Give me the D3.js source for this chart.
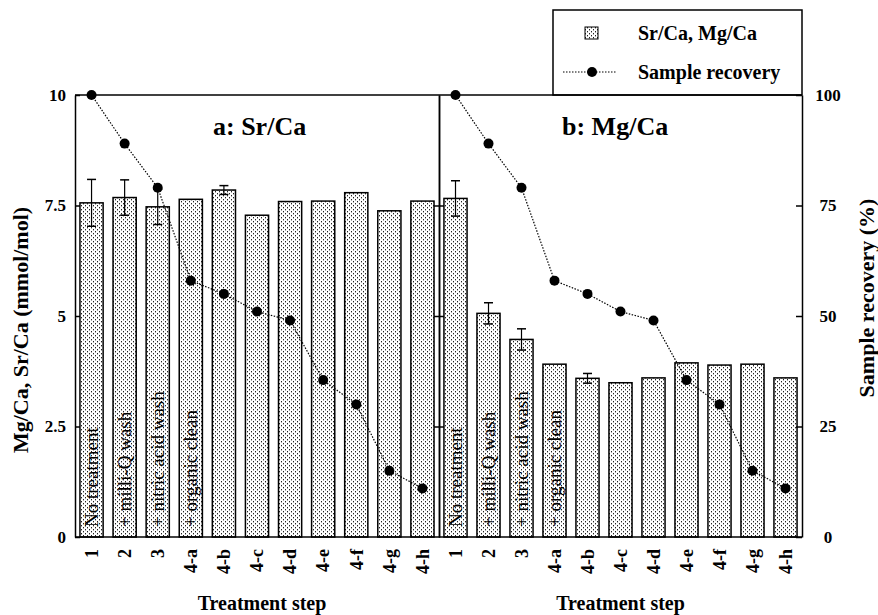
<!DOCTYPE html>
<html>
<head>
<meta charset="utf-8">
<script src="https://d3js.org/d3.v7.min.js"></script>
<style>
body { margin: 0; background: #fff; }
svg { font-family: "Liberation Serif", "Times New Roman", serif; }
.axis text { font-family: "Liberation Serif", "Times New Roman", serif; font-weight: bold; font-size: 17px; fill: #000; }
.axis path, .axis line { stroke: #000; stroke-width: 1.5; }
</style>
</head>
<body>
<div id="chart"></div>
<script>
// treatment steps and measured values
var steps = ["1", "2", "3", "4-a", "4-b", "4-c", "4-d", "4-e", "4-f", "4-g", "4-h"]
var srCa = [7.56, 7.68, 7.47, 7.64, 7.85, 7.28, 7.59, 7.60, 7.79, 7.38, 7.60]
var srCaErr = [0.53, 0.40, 0.40, 0, 0.10, 0, 0, 0, 0, 0, 0]
var mgCa = [7.66, 5.06, 4.47, 3.91, 3.59, 3.49, 3.60, 3.94, 3.89, 3.91, 3.60]
var mgCaErr = [0.40, 0.24, 0.24, 0, 0.11, 0, 0, 0, 0, 0, 0]
var recovery = [100, 89, 79, 58, 55, 51, 49, 35.5, 30, 15, 11]
var stepText = ["No treatment", "+ milli-Q wash", "+ nitric acid wash", "+ organic clean"]
var ratioTicks = [0, 2.5, 5, 7.5, 10]
var recTicks = [0, 25, 50, 75, 100]

var plotLeft = 75, plotMid = 439, plotRight = 802, plotTop = 95, plotBottom = 537

var svg = d3.select('#chart').append('svg')
    .attr('width', 878)
    .attr('height', 615)

// stipple fill for the bars
var defs = svg.append('defs')
var pat = defs.append('pattern')
    .attr('id', 'stip')
    .attr('patternUnits', 'userSpaceOnUse')
    .attr('width', 4)
    .attr('height', 4)
pat.append('rect').attr('width', 4).attr('height', 4).attr('fill', '#fff')
pat.append('rect').attr('x', 1).attr('y', 1).attr('width', 1).attr('height', 1).attr('fill', '#222')
pat.append('rect').attr('x', 3).attr('y', 3).attr('width', 1).attr('height', 1).attr('fill', '#222')
pat.append('rect').attr('x', 1).attr('y', 2).attr('width', 1).attr('height', 1).attr('fill', '#aaa')
pat.append('rect').attr('x', 3).attr('y', 0).attr('width', 1).attr('height', 1).attr('fill', '#aaa')

var y = d3.scaleLinear().domain([0, 10]).range([plotBottom, plotTop])
var yr = d3.scaleLinear().domain([0, 100]).range([plotBottom, plotTop])

var panels = [
    { name: 'a: Sr/Ca', vals: srCa, err: srCaErr, x0: plotLeft, x1: plotMid },
    { name: 'b: Mg/Ca', vals: mgCa, err: mgCaErr, x0: plotMid, x1: plotRight }
]

// legend box (drawn first so the frame line sits over its bottom edge)
var lg = svg.append('g')
lg.append('rect').attr('x', 553).attr('y', 10).attr('width', 249).attr('height', 85)
    .attr('fill', '#fff').attr('stroke', '#000').attr('stroke-width', 1.5)
lg.append('rect').attr('x', 585).attr('y', 27).attr('width', 13).attr('height', 12)
    .attr('fill', 'url(#stip)').attr('stroke', '#000').attr('stroke-width', 1)
lg.append('text').attr('x', 638).attr('y', 40).text('Sr/Ca, Mg/Ca')
    .style('font-weight', 'bold').style('font-size', '20px')
lg.append('line').attr('x1', 563).attr('x2', 617).attr('y1', 72).attr('y2', 72)
    .attr('stroke', '#000').attr('stroke-width', 1.2).attr('stroke-dasharray', '1.5,1.5')
lg.append('circle').attr('cx', 592).attr('cy', 72).attr('r', 5).attr('fill', '#000')
lg.append('text').attr('x', 638).attr('y', 79).text('Sample recovery')
    .style('font-weight', 'bold').style('font-size', '20px')

panels.forEach(function(p, pi) {
    var x = d3.scaleBand().domain(steps).range([p.x0, p.x1]).paddingInner(0.3).paddingOuter(0.15)
    var g = svg.append('g')

    // bars
    g.selectAll('rect.bar')
        .data(p.vals)
        .enter()
        .append('rect')
        .attr('class', 'bar')
        .attr('x', function(d, i) { return x(steps[i]) })
        .attr('width', x.bandwidth())
        .attr('y', function(d) { return y(d) })
        .attr('height', function(d) { return y(0) - y(d) })
        .attr('fill', 'url(#stip)')
        .attr('stroke', '#000')
        .attr('stroke-width', 1.5)

    // error bars
    p.vals.forEach(function(d, i) {
        var e = p.err[i]
        if (!e) return
        var cx = x(steps[i]) + x.bandwidth() / 2
        g.append('line').attr('x1', cx).attr('x2', cx).attr('y1', y(d - e)).attr('y2', y(d + e))
            .attr('stroke', '#000').attr('stroke-width', 1.2)
        ;[d - e, d + e].forEach(function(v) {
            g.append('line').attr('x1', cx - 4.5).attr('x2', cx + 4.5).attr('y1', y(v)).attr('y2', y(v))
                .attr('stroke', '#000').attr('stroke-width', 1.5)
        })
    })

    // text inside the first bars
    stepText.forEach(function(t, i) {
        var cx = x(steps[i]) + x.bandwidth() / 2
        g.append('text')
            .attr('transform', 'translate(' + cx + ',' + (plotBottom - 10) + ') rotate(-90)')
            .attr('dy', '0.35em')
            .style('font-size', '19px')
            .text(t)
    })

    // recovery line
    var line = d3.line()
        .x(function(d, i) { return x(steps[i]) + x.bandwidth() / 2 })
        .y(function(d) { return yr(d) })
    g.append('path').datum(recovery).attr('d', line)
        .attr('fill', 'none').attr('stroke', '#000').attr('stroke-width', 1.2)
        .attr('stroke-dasharray', '1.5,1.5')
    g.selectAll('circle.rec')
        .data(recovery)
        .enter()
        .append('circle')
        .attr('class', 'rec')
        .attr('cx', function(d, i) { return x(steps[i]) + x.bandwidth() / 2 })
        .attr('cy', function(d) { return yr(d) })
        .attr('r', 5)
        .attr('fill', '#000')

    // x axis
    var xa = svg.append('g').attr('class', 'axis')
        .attr('transform', 'translate(0,' + plotBottom + ')')
        .call(d3.axisBottom(x).tickSize(0))
    xa.select('.domain').attr('d', 'M' + p.x0 + ',0H' + p.x1)
    xa.selectAll('text')
        .attr('transform', 'rotate(-90)')
        .attr('x', -12)
        .attr('y', 0)
        .attr('dy', '0.35em')
        .style('text-anchor', 'end')
        .style('font-size', '18px')

    svg.append('text')
        .attr('x', (p.x0 + p.x1) / 2 + (pi == 0 ? 5 : 0))
        .attr('y', 610)
        .style('text-anchor', 'middle')
        .style('font-weight', 'bold')
        .style('font-size', '20px')
        .text('Treatment step')

    svg.append('text')
        .attr('x', pi == 0 ? 213 : 562)
        .attr('y', 135)
        .style('font-weight', 'bold')
        .style('font-size', '26px')
        .text(p.name)
})

// frame top line
svg.append('line').attr('x1', plotLeft).attr('x2', plotRight).attr('y1', plotTop).attr('y2', plotTop)
    .attr('stroke', '#000').attr('stroke-width', 1.5)

// left axis
svg.append('g').attr('class', 'axis')
    .attr('transform', 'translate(' + plotLeft + ',0)')
    .call(d3.axisLeft(y).tickValues(ratioTicks).tickSizeInner(-5).tickSizeOuter(0).tickPadding(9)
        .tickFormat(function(d) { return d }))

// middle divider with ticks on both sides
svg.append('g').attr('class', 'axis')
    .attr('transform', 'translate(' + plotMid + ',0)')
    .call(d3.axisLeft(y).tickValues([2.5, 5, 7.5]).tickSize(5).tickSizeOuter(0).tickFormat(''))
svg.append('g').attr('class', 'axis')
    .attr('transform', 'translate(' + plotMid + ',0)')
    .call(d3.axisRight(y).tickValues([2.5, 5, 7.5]).tickSize(5).tickSizeOuter(0).tickFormat(''))

// right axis
var ra = svg.append('g').attr('class', 'axis')
    .attr('transform', 'translate(' + plotRight + ',0)')
    .call(d3.axisRight(yr).tickValues(recTicks).tickSizeInner(-6).tickSizeOuter(0).tickPadding(26)
        .tickFormat(function(d) { return d }))
ra.selectAll('text').style('text-anchor', 'middle')

svg.append('text')
    .attr('transform', 'translate(20,330) rotate(-90)')
    .attr('dy', '0.35em')
    .style('text-anchor', 'middle')
    .style('font-weight', 'bold')
    .style('font-size', '22px')
    .text('Mg/Ca, Sr/Ca (mmol/mol)')

svg.append('text')
    .attr('transform', 'translate(866,298) rotate(-90)')
    .attr('dy', '0.35em')
    .style('text-anchor', 'middle')
    .style('font-weight', 'bold')
    .style('font-size', '22px')
    .text('Sample recovery (%)')
</script>
</body>
</html>
